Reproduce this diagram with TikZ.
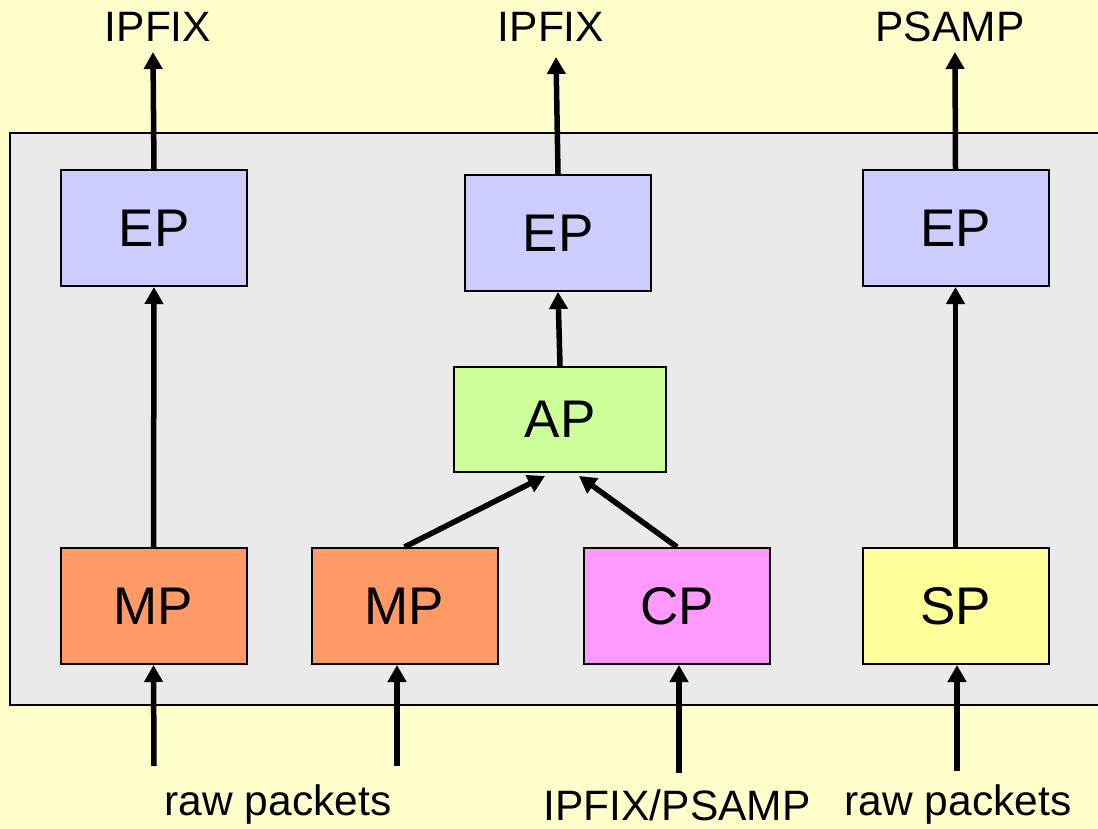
\documentclass[tikz,border=0pt]{standalone}
\usepackage{fontspec}
\setmainfont{Liberation Sans}
\usetikzlibrary{arrows.meta,calc}
\definecolor{bgyellow}{HTML}{FFFFCC}
\definecolor{panelgray}{HTML}{EAEAEA}
\definecolor{epblue}{HTML}{CCCCFF}
\definecolor{apgreen}{HTML}{CCFF99}
\definecolor{mporange}{HTML}{FF9966}
\definecolor{cppink}{HTML}{FF99FF}
\definecolor{spyellow}{HTML}{FFFF99}
\tikzset{
  procbox/.style={draw=black, line width=2pt, inner sep=0pt,
    minimum width=186pt, minimum height=116pt,
    font=\fontsize{53}{62}\selectfont},
  flow/.style={line width=5.5pt, -{Triangle[length=17pt,width=18pt]}},
  caption/.style={font=\fontsize{42.5}{50}\selectfont, inner sep=0pt}
}
\begin{document}
\begin{tikzpicture}[x=1pt,y=-1pt]
  % page and clip
  \useasboundingbox (0,0) rectangle (1098,829);
  \clip (0,0) rectangle (1098,829);
  \fill[bgyellow] (0,0) rectangle (1098,829);
  % device panel
  \draw[fill=panelgray, line width=2pt] (10,133) rectangle (1120,705);

  % process boxes
  \node[procbox, fill=epblue] (ep1) at (154,228) {EP};
  \node[procbox, fill=epblue] (ep2) at (558,233) {EP};
  \node[procbox, fill=epblue] (ep3) at (955.5,228) {EP};
  \node[procbox, fill=apgreen, minimum width=212pt, minimum height=105pt] (ap) at (560,419.5) {AP};
  \node[procbox, fill=mporange] (mp1) at (153.5,606) {MP};
  \node[procbox, fill=mporange] (mp2) at (404.5,606) {MP};
  \node[procbox, fill=cppink] (cp) at (677,606) {CP};
  \node[procbox, fill=spyellow] (sp) at (955.5,606) {SP};

  % output labels
  \node[caption] (out1) at (158,27) {IPFIX};
  \node[caption] (out2) at (551,27) {IPFIX};
  \node[caption] (out3) at (950,27) {PSAMP};
  % input labels
  \node[caption] (in1) at (278,805) {raw packets};
  \node[caption] (in2) at (677,805) {IPFIX/PSAMP};
  \node[caption] (in3) at (958,805) {raw packets};

  % free arrow ends
  \coordinate (o1) at (153,52);
  \coordinate (o2) at (556,57);
  \coordinate (o3) at (955,52);
  \coordinate (i1) at (154,766);
  \coordinate (i2) at (397,766);
  \coordinate (i3) at (679,773);
  \coordinate (i4) at (957,771);
  \coordinate (apl) at (545,476);
  \coordinate (apr) at (579,476);

  % exports
  \draw[flow] (ep1.north) -- (o1);
  \draw[flow] (ep2.north) -- (o2);
  \draw[flow] (ep3.north) -- (o3);
  % internal flows
  \draw[flow] (mp1.north) -- (ep1.south);
  \draw[flow] (sp.north) -- (ep3.south);
  \draw[flow] (ap.north) -- (ep2.south);
  \draw[flow] (mp2.north) -- (apl);
  \draw[flow] (cp.north) -- (apr);
  % inputs
  \draw[flow] (i1) -- (mp1.south);
  \draw[flow] (i2) -- (i2 |- mp2.south);
  \draw[flow] (i3) -- (i3 |- cp.south);
  \draw[flow] (i4) -- (i4 |- sp.south);
\end{tikzpicture}
\end{document}
